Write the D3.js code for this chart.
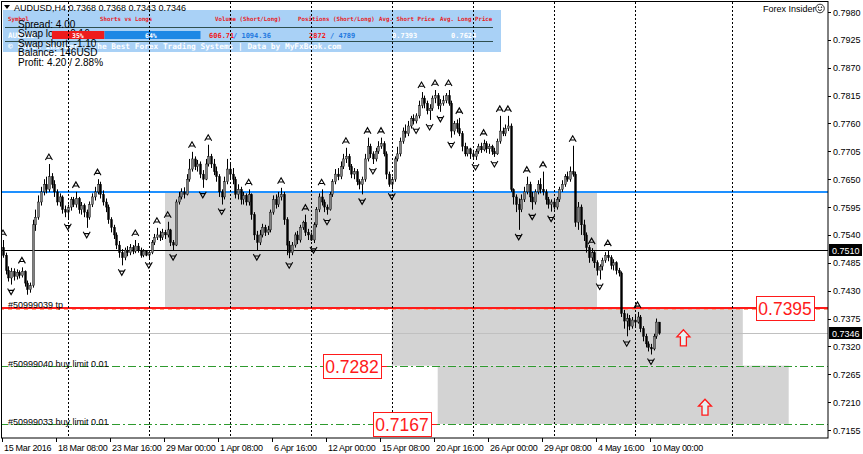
<!DOCTYPE html>
<html>
<head>
<meta charset="utf-8">
<script src="https://cdn.jsdelivr.net/npm/d3@7"></script>
<style>
body { margin: 0; background: #fff; }
svg text { font-family: "Liberation Sans", Arial, sans-serif; }
</style>
</head>
<body>
<script>
// AUDUSD H4 bars, prices in 1/10000 (7510 = 0.7510)
var opens = [7515,7500,7470,7455,7468,7458,7466,7460,7468,7445,7432,7440,7560,7575,7605,7625,7640,7630,7655,7640,
7625,7605,7615,7590,7585,7595,7610,7600,7612,7590,7598,7585,7575,7600,7615,7625,7640,7620,7605,7595,
7570,7555,7540,7520,7505,7495,7510,7505,7515,7508,7518,7510,7500,7508,7500,7505,7525,7535,7540,7535,
7545,7540,7550,7525,7520,7605,7615,7625,7620,7650,7670,7690,7675,7680,7660,7650,7680,7695,7680,7665,
7655,7625,7615,7645,7670,7660,7650,7620,7630,7610,7618,7605,7620,7580,7540,7525,7540,7555,7545,7550,
7585,7610,7600,7615,7620,7570,7520,7505,7520,7540,7530,7555,7565,7545,7540,7530,7560,7590,7615,7605,
7595,7590,7620,7645,7660,7655,7675,7690,7695,7675,7660,7665,7645,7640,7650,7690,7715,7700,7690,7705,
7715,7720,7700,7660,7640,7650,7690,7700,7725,7745,7740,7755,7770,7765,7775,7795,7810,7800,7785,7790,
7810,7815,7795,7800,7805,7815,7800,7745,7760,7750,7740,7715,7700,7710,7700,7695,7705,7715,7708,7720,
7710,7715,7705,7700,7725,7745,7740,7750,7755,7630,7615,7600,7590,7610,7625,7640,7615,7605,7625,7640,
7630,7625,7610,7600,7605,7595,7610,7630,7640,7655,7650,7665,7660,7565,7595,7560,7540,7515,7495,7505,
7485,7470,7478,7490,7500,7495,7480,7485,7470,7465,7385,7370,7375,7360,7372,7368,7378,7355,7340,7325,
7318,7315,7340,7368];
var highs = [7530,7505,7478,7475,7474,7472,7470,7476,7470,7450,7446,7570,7590,7618,7635,7650,7655,7680,7662,7648,
7630,7622,7618,7598,7600,7615,7615,7625,7615,7605,7602,7590,7606,7622,7635,7650,7645,7628,7612,7600,
7575,7560,7545,7528,7512,7515,7518,7522,7520,7530,7524,7515,7512,7510,7510,7530,7542,7554,7548,7552,
7550,7566,7552,7530,7610,7625,7632,7634,7660,7690,7704,7695,7688,7685,7668,7690,7718,7700,7690,7675,
7660,7630,7655,7690,7680,7672,7655,7640,7635,7625,7622,7630,7622,7585,7548,7550,7562,7560,7558,7590,
7618,7620,7625,7633,7625,7575,7528,7526,7545,7548,7560,7568,7580,7552,7545,7565,7595,7622,7630,7610,
7600,7625,7650,7670,7672,7685,7700,7712,7700,7680,7672,7670,7650,7655,7700,7732,7720,7705,7712,7725,
7732,7725,7705,7665,7655,7695,7714,7732,7752,7758,7765,7775,7778,7780,7805,7822,7815,7805,7798,7815,
7826,7820,7808,7815,7820,7826,7805,7765,7768,7771,7745,7722,7715,7712,7708,7710,7720,7722,7728,7725,
7720,7718,7712,7730,7775,7752,7758,7775,7760,7632,7620,7612,7620,7635,7655,7645,7625,7630,7648,7652,
7665,7630,7615,7610,7612,7615,7635,7648,7660,7665,7675,7716,7665,7605,7600,7570,7545,7520,7514,7508,
7490,7482,7495,7506,7510,7500,7492,7488,7475,7468,7392,7385,7382,7378,7380,7388,7382,7360,7345,7330,
7325,7345,7375,7368];
var lows = [7495,7462,7448,7442,7450,7452,7454,7456,7438,7422,7426,7436,7548,7570,7598,7618,7622,7625,7632,7615,
7598,7596,7582,7575,7570,7588,7595,7594,7582,7580,7575,7554,7570,7595,7608,7620,7612,7598,7585,7562,
7545,7532,7512,7495,7480,7490,7498,7500,7502,7504,7505,7495,7496,7498,7494,7502,7520,7530,7528,7530,
7532,7535,7518,7510,7518,7600,7610,7612,7618,7645,7665,7668,7665,7652,7633,7648,7675,7672,7658,7645,
7615,7600,7610,7640,7650,7640,7612,7610,7600,7600,7598,7598,7570,7530,7510,7520,7535,7538,7540,7545,
7580,7592,7595,7608,7560,7500,7494,7500,7515,7522,7525,7550,7538,7530,7528,7524,7555,7585,7598,7585,
7580,7588,7615,7640,7648,7650,7670,7682,7668,7652,7650,7638,7630,7620,7645,7685,7692,7680,7685,7700,
7710,7695,7650,7635,7630,7645,7685,7695,7720,7732,7735,7750,7758,7760,7770,7790,7790,7778,7767,7785,
7800,7788,7783,7795,7800,7795,7732,7738,7742,7735,7705,7695,7695,7690,7692,7688,7700,7702,7705,7702,
7700,7698,7694,7698,7720,7735,7735,7745,7625,7600,7585,7550,7585,7605,7620,7605,7590,7600,7620,7622,
7618,7600,7592,7586,7590,7590,7605,7625,7635,7645,7645,7655,7556,7550,7540,7528,7505,7485,7488,7475,
7460,7452,7470,7485,7488,7472,7470,7462,7458,7378,7355,7340,7352,7355,7360,7365,7348,7330,7318,7310,
7304,7312,7335,7343];
var closes = [7500,7470,7455,7468,7458,7466,7460,7468,7445,7432,7440,7560,7575,7605,7625,7640,7630,7655,7640,7625,
7605,7615,7590,7585,7595,7610,7600,7612,7590,7598,7585,7575,7600,7615,7625,7640,7620,7605,7595,7570,
7555,7540,7520,7505,7495,7510,7505,7515,7508,7518,7510,7500,7508,7500,7505,7525,7535,7540,7535,7545,
7540,7550,7525,7520,7605,7615,7625,7620,7650,7670,7690,7675,7680,7660,7650,7680,7695,7680,7665,7655,
7625,7615,7645,7670,7660,7650,7620,7630,7610,7618,7605,7620,7580,7540,7525,7540,7555,7545,7550,7585,
7610,7600,7615,7620,7570,7520,7505,7520,7540,7530,7555,7565,7545,7540,7530,7560,7590,7615,7605,7595,
7590,7620,7645,7660,7655,7675,7690,7695,7675,7660,7665,7645,7640,7650,7690,7715,7700,7690,7705,7715,
7720,7700,7660,7640,7650,7690,7700,7725,7745,7740,7755,7770,7765,7775,7795,7810,7800,7785,7790,7810,
7815,7795,7800,7805,7815,7800,7745,7760,7750,7740,7715,7700,7710,7700,7695,7705,7715,7708,7720,7710,
7715,7705,7700,7725,7745,7740,7750,7755,7630,7615,7600,7590,7610,7625,7640,7615,7605,7625,7640,7630,
7625,7610,7600,7605,7595,7610,7630,7640,7655,7650,7665,7660,7565,7595,7560,7540,7515,7495,7505,7485,
7470,7478,7490,7500,7495,7480,7485,7470,7465,7385,7370,7375,7360,7372,7368,7378,7355,7340,7325,7318,
7315,7340,7368,7346];

// fractal arrows (bar numbers)
var upFractals = [0,7,17,27,35,49,57,61,70,76,91,103,112,118,127,135,140,155,160,165,169,178,184,187,194,200,211,218,224,235];
var downFractals = [3,24,31,44,54,63,74,81,94,106,115,120,133,137,144,153,158,162,166,175,182,191,196,203,221,231,240];

// time axis: label every 20 bars
var timeBars = [0,20,40,60,80,100,120,140,160,180,200,220,240];
var timeLabels = ['15 Mar 2016','18 Mar 08:00','23 Mar 16:00','29 Mar 00:00','1 Apr 08:00','6 Apr 16:00',
  '12 Apr 00:00','15 Apr 08:00','20 Apr 16:00','26 Apr 00:00','29 Apr 08:00','4 May 16:00','10 May 00:00'];
// week separators (bar numbers, last one is in the future area)
var weekBars = [24,54,84,114,144,174,204,234,270];

var priceTicks = ['0.7980','0.7925','0.7870','0.7815','0.7760','0.7705','0.7650','0.7595','0.7540',
  '0.7485','0.7430','0.7375','0.7320','0.7265','0.7210','0.7155'];

// objects
var zoneStart = [60,144,161], zoneEnd = [220,274,291];
var zoneTop = [0.7624,0.7395,0.7282], zoneBottom = [0.7395,0.7282,0.7167];
var avgLong = 0.7624, lastClose = 0.7510, tpLevel = 0.7395, bid = 0.7346;
var limitLevels = [0.7282, 0.7167];
var limitNames = ['#50999040 buy limit 0.01', '#50999033 buy limit 0.01'];
var boxLevels = ['0.7395','0.7282','0.7167'], boxBars = [300.4,140,158.5];
var arrowBars = [252,260], arrowPrices = [0.7337,0.7200];

var infoLines = ['Spread: 4.00','Swap long: 0.16','Swap short: -1.10','Balance: 146USD','Profit: 4.20 / 2.88%'];
var shortPct = 35, longPct = 64;

var W = 863, H = 454;
var frameR = 828, frameB = 438;

var svg = d3.select('body').append('svg')
    .attr('width', W)
    .attr('height', H);

var x = d3.scaleLinear().domain([0, 243]).range([3, 3 + 243 * 2.7]);
var y = d3.scaleLinear().domain([0.7155, 0.7980]).range([430, 12]);
var p = function(v) { return y(v / 10000); };

svg.append('clipPath').attr('id', 'plot')
  .append('rect').attr('x', 1).attr('y', 2).attr('width', frameR - 1).attr('height', frameB - 2);

var chart = svg.append('g').attr('clip-path', 'url(#plot)');

// gray zones
chart.selectAll('.zone').data(zoneStart).enter().append('rect')
    .attr('x', function(d) { return x(d); })
    .attr('y', function(d, i) { return y(zoneTop[i]); })
    .attr('width', function(d, i) { return x(zoneEnd[i]) - x(d); })
    .attr('height', function(d, i) { return y(zoneBottom[i]) - y(zoneTop[i]); })
    .attr('fill', '#d3d3d3');

// horizontal lines
function hline(v, color, w, dash) {
  var yy = Math.round(y(v)) + (w % 2 ? 0.5 : 0);
  var l = chart.append('line').attr('x1', 0).attr('x2', frameR)
    .attr('y1', yy).attr('y2', yy)
    .attr('stroke', color).attr('stroke-width', w);
  if (dash) l.attr('stroke-dasharray', dash);
  return yy;
}
hline(bid, '#c0c0c0', 1);
limitLevels.forEach(function(v) { hline(v, '#2e9a2e', 1, '8,3,2,3'); });
hline(lastClose, '#000', 1);
hline(avgLong, '#1e90ff', 2);
var tpY = hline(tpLevel, '#ff1a1a', 2);
chart.append('line').attr('x1', 0).attr('x2', frameR).attr('y1', tpY + 1.5).attr('y2', tpY + 1.5)
  .attr('stroke', '#ffa07a').attr('stroke-dasharray', '4,4');

// order labels
chart.append('text').attr('x', 8).attr('y', tpY - 0.5).attr('font-size', 9).text('#50999039 tp');
limitLevels.forEach(function(v, i) {
  chart.append('text').attr('x', 8).attr('y', Math.round(y(v)) + 0.5)
    .attr('font-size', 9).text(limitNames[i]);
});

// info panel
var panel = svg.append('g');
panel.append('rect').attr('x', 3).attr('y', 10).attr('width', 498).attr('height', 42).attr('fill', '#a9d1f6');
var hdr = [['Symbol', 8], ['Shorts vs Longs', 100], ['Volume (Short/Long)', 215], ['Positions (Short/Long)', 298],
  ['Avg. Short Price', 379], ['Avg. Long Price', 440]];
panel.selectAll('.hdr').data(hdr).enter().append('text')
    .attr('x', function(d) { return d[1]; }).attr('y', 21)
    .attr('font-size', 5.8).attr('font-weight', 'bold')
    .style('font-family', '"DejaVu Sans Mono", monospace')
    .attr('fill', '#e8201c').text(function(d) { return d[0]; });
[27.5, 41.5].forEach(function(yy) {
  panel.append('line').attr('x1', 5).attr('x2', 493).attr('y1', yy).attr('y2', yy)
    .attr('stroke', '#2f4f4f').attr('stroke-width', 1);
});
panel.append('text').attr('x', 8).attr('y', 48.5).attr('font-size', 7.8).attr('font-weight', 'bold')
  .style('font-family', '"DejaVu Sans Mono", monospace').attr('fill', '#fff')
  .text('\u00a9 Forex Insider - The Best Forex Trading Systems | Data by MyFxBook.com');
panel.append('text').attr('x', 8).attr('y', 38).attr('font-size', 7.5).attr('font-weight', 'bold')
  .style('font-family', '"DejaVu Sans Mono", monospace').attr('fill', '#fff').text('AUDUSD');

// black info text
svg.selectAll('.info').data(infoLines).enter().append('text')
    .attr('x', 18).attr('y', function(d, i) { return 28 + i * 9.4; })
    .attr('font-size', 10).attr('fill', '#000').text(function(d) { return d; });

// shorts vs longs bar (drawn over the info text, as in the terminal)
var row = svg.append('g');
var pct = d3.scaleLinear().domain([0, 100]).range([52, 202]);
row.append('rect').attr('x', pct(0)).attr('y', 31).attr('width', pct(shortPct) - pct(0)).attr('height', 8).attr('fill', '#ee1c1c');
row.append('rect').attr('x', pct(shortPct)).attr('y', 31).attr('width', pct(shortPct + longPct) - pct(shortPct)).attr('height', 8).attr('fill', '#1e88e5');
var mono = function(s, xx, col, size) {
  return row.append('text').attr('x', xx).attr('y', 38).attr('font-size', size || 7)
    .attr('font-weight', 'bold').style('font-family', '"DejaVu Sans Mono", monospace')
    .attr('fill', col).text(s);
};
mono(shortPct + '%', 72, '#fff', 6.5).attr('y', 37.5);
mono(longPct + '%', 145, '#fff', 6.5).attr('y', 37.5);
mono('606.71', 209, '#f01818');
mono('/ 1094.36', 233, '#1e78e0');
mono('2872', 309, '#f01818');
mono('/ 4789', 330, '#1e78e0');
mono('0.7393', 392, '#fff');
mono('0.7624', 451, '#fff');

// week separators
var sep = svg.append('g');
sep.selectAll('line').data(weekBars).enter().append('line')
    .attr('x1', function(d) { return Math.round(x(d)) + 0.5; })
    .attr('x2', function(d) { return Math.round(x(d)) + 0.5; })
    .attr('y1', 2).attr('y2', frameB)
    .attr('stroke', '#000').attr('stroke-dasharray', '2,2');

// candles
var candles = chart.append('g');
candles.selectAll('.wick').data(closes).enter().append('line')
    .attr('x1', function(d, i) { return Math.round(x(i)) + 0.5; })
    .attr('x2', function(d, i) { return Math.round(x(i)) + 0.5; })
    .attr('y1', function(d, i) { return p(highs[i]); })
    .attr('y2', function(d, i) { return p(lows[i]); })
    .attr('stroke', '#000').attr('stroke-width', 1);
candles.selectAll('.body').data(closes).enter().append('rect')
    .attr('x', function(d, i) { return Math.round(x(i)) - 0.5; })
    .attr('width', 2)
    .attr('y', function(d, i) { return p(Math.max(opens[i], d)); })
    .attr('height', function(d, i) { return Math.max(1, Math.abs(p(opens[i]) - p(d))); })
    .attr('fill', function(d, i) { return d >= opens[i] ? '#808080' : '#000'; })
    .attr('stroke', '#000').attr('stroke-width', 0.4);

// fractals
var fr = chart.append('g').attr('fill', 'none').attr('stroke', '#000').attr('stroke-width', 1.1);
fr.selectAll('.up').data(upFractals).enter().append('path')
    .attr('transform', function(d) { return 'translate(' + x(d) + ',' + (p(highs[d]) - 7) + ')'; })
    .attr('d', 'M-3.5,3L0,-3L3.5,3M-2,1.2H2');
fr.selectAll('.dn').data(downFractals).enter().append('path')
    .attr('transform', function(d) { return 'translate(' + x(d) + ',' + (p(lows[d]) + 7) + ')'; })
    .attr('d', 'M-3.5,-3L0,3L3.5,-3M-2,-1.2H2');

// red up arrows
chart.selectAll('.arr').data(arrowBars).enter().append('path')
    .attr('transform', function(d, i) { return 'translate(' + x(d) + ',' + y(arrowPrices[i]) + ')'; })
    .attr('d', 'M0,-8L6.5,-1H3V8H-3V-1H-6.5Z')
    .attr('fill', '#e4f2f2').attr('stroke', '#ff1a1a').attr('stroke-width', 1.3);

// price boxes
boxLevels.forEach(function(s, i) {
  var yy = Math.round(y(+s)) + 0.5, xr = x(boxBars[i]);
  svg.append('line').attr('x1', xr).attr('x2', i === 0 ? frameR : xr + 6).attr('y1', yy).attr('y2', yy)
    .attr('stroke', '#ff1a1a').attr('stroke-width', 1);
  svg.append('rect').attr('x', Math.round(xr - 58) + 0.5).attr('y', yy - 12).attr('width', 58).attr('height', 24)
    .attr('fill', '#fff').attr('stroke', '#ff1a1a').attr('stroke-width', 1);
  svg.append('text').attr('x', xr - 29).attr('y', yy + 6.5).attr('text-anchor', 'middle')
    .attr('font-size', 17.5).attr('fill', '#ff1a1a').text(s);
});

// frame
svg.append('rect').attr('x', 1.5).attr('y', 1.5).attr('width', frameR - 1.5).attr('height', frameB - 1.5)
  .attr('fill', 'none').attr('stroke', '#000');

// title
svg.append('path').attr('d', 'M4,5H10L7,9Z').attr('fill', '#000');
svg.append('text').attr('x', 14).attr('y', 10.5).attr('font-size', 9)
  .text('AUDUSD,H4  0.7368 0.7368 0.7343 0.7346');
svg.append('text').attr('x', 763).attr('y', 12).attr('font-size', 9).text('Forex Insider');
var sm = svg.append('g').attr('transform', 'translate(820,8.5)').attr('fill', 'none').attr('stroke', '#000').attr('stroke-width', 0.8);
sm.append('circle').attr('r', 4.3);
sm.append('path').attr('d', 'M-2,1Q0,3.2 2,1');
sm.append('circle').attr('cx', -1.5).attr('cy', -1.3).attr('r', 0.4).attr('fill', '#000');
sm.append('circle').attr('cx', 1.5).attr('cy', -1.3).attr('r', 0.4).attr('fill', '#000');

// price axis
var pa = svg.append('g');
pa.selectAll('line').data(priceTicks).enter().append('line')
    .attr('x1', frameR).attr('x2', frameR + 3)
    .attr('y1', function(d) { return Math.round(y(+d)) + 0.5; })
    .attr('y2', function(d) { return Math.round(y(+d)) + 0.5; })
    .attr('stroke', '#000');
pa.selectAll('text').data(priceTicks).enter().append('text')
    .attr('x', 833).attr('y', function(d) { return y(+d) + 3.5; })
    .attr('font-size', 9).text(function(d) { return d; });
[lastClose, bid].forEach(function(v) {
  var yy = Math.round(y(v));
  svg.append('rect').attr('x', 829).attr('y', yy - 6).attr('width', 33).attr('height', 12).attr('fill', '#000');
  svg.append('text').attr('x', 832).attr('y', yy + 3.5).attr('font-size', 9).attr('fill', '#fff').text(v.toFixed(4));
});

// time axis
var ta = svg.append('g');
ta.selectAll('line').data(timeBars).enter().append('line')
    .attr('x1', function(d) { return Math.round(x(d)) - 0.5; })
    .attr('x2', function(d) { return Math.round(x(d)) - 0.5; })
    .attr('y1', frameB).attr('y2', frameB + 4).attr('stroke', '#000');
ta.selectAll('text').data(timeBars).enter().append('text')
    .attr('x', function(d) { return x(d) + 1; }).attr('y', 451)
    .attr('font-size', 9).attr('letter-spacing', -0.3)
    .text(function(d, i) { return timeLabels[i]; });
</script>
</body>
</html>
